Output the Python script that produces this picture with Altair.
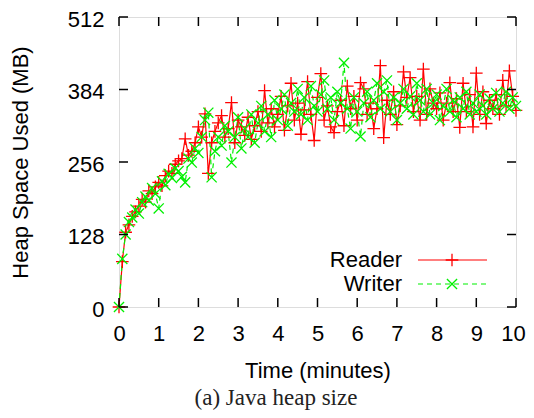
import altair as alt
import pandas as pd

# ---- data ----
step = 1.0 / 12.0  # minutes between samples
reader = [0, 80, 132, 145, 160, 168, 178, 190, 185, 205, 200, 212,
          220, 214, 232, 240, 236, 252, 258, 262, 297, 268, 275, 290,
          318, 300, 341, 236, 290, 310, 325, 338, 300, 315, 361, 290,
          330, 318, 303, 335, 296, 320, 345, 310, 382, 325, 350, 318,
          340, 372, 312, 355, 395, 330, 360, 305, 348, 398, 340, 294,
          370, 412, 330, 355, 318, 308, 345, 365, 320, 390, 350, 372,
          330, 396, 385, 340, 360, 315, 350, 426, 299, 365, 340, 380,
          322, 355, 415, 370, 405, 345, 372, 330, 420, 340, 385, 360,
          350, 378, 330, 360, 396, 345, 368, 317, 395, 345, 375, 318,
          413, 340, 380, 324, 365, 350, 375, 340, 400, 355, 417, 372,
          347]
writer = [0, 85, 128, 150, 158, 172, 165, 185, 195, 188, 210, 200,
          174, 222, 215, 235, 228, 245, 240, 230, 220, 262, 255, 280,
          272, 300, 330, 343, 229, 275, 300, 285, 320, 310, 255, 300,
          335, 280, 315, 300, 340, 290, 325, 355, 310, 340, 300, 365,
          330, 350, 375, 320, 360, 345, 385, 340, 370, 330, 390, 355,
          345, 375, 400, 350, 370, 330, 380, 360, 431, 350, 315, 370,
          345, 301, 360, 380, 335, 365, 395, 350, 380, 400, 345, 370,
          330, 360, 385, 350, 372, 340, 395, 365, 345, 385, 340, 360,
          375, 330, 355, 385, 345, 365, 335, 370, 350, 380, 340, 360,
          345, 375, 355, 340, 368, 350, 378, 345, 360, 380, 350, 370,
          355]
series_names = ["Reader", "Writer"]
x_ticks = [0, 1, 2, 3, 4, 5, 6, 7, 8, 9, 10]
y_ticks = [0, 128, 256, 384, 512]
caption = "(a)  Java heap size"

rows = []
for name, vals in zip(series_names, [reader, writer]):
    for i, v in enumerate(vals):
        rows.append({"t": i * step, "mb": v, "series": name})
df = pd.DataFrame(rows)

W, H = 397, 290
TL = 9  # tick length
RED, GREEN = "#ff0000", "#00f000"
PLUS = "M-1,0L1,0M0,-1L0,1"
CROSS = "M-0.8,-0.8L0.8,0.8M-0.8,0.8L0.8,-0.8"
FONT = "Liberation Sans"

xs = alt.Scale(domain=[0, 10], nice=False, zero=False)
ys = alt.Scale(domain=[0, 512], nice=False)
color = alt.Color("series:N", scale=alt.Scale(domain=series_names, range=[RED, GREEN]), legend=None)
dash = alt.StrokeDash("series:N", scale=alt.Scale(domain=series_names, range=[[1, 0], [5, 4]]), legend=None)
shape = alt.Shape("series:N", scale=alt.Scale(domain=series_names, range=[PLUS, CROSS]), legend=None)

xaxis = alt.Axis(values=x_ticks, ticks=False, domain=False, grid=False, labelFont=FONT,
                 labelFontSize=22, labelColor="black", labelPadding=16, title="Time (minutes)",
                 titleFont=FONT, titleFontSize=22, titleFontWeight="normal", titleColor="black",
                 titlePadding=16, labelFlush=False, labelOverlap=False,
                 labelOffset={"condition": {"test": "datum.value === 10", "value": -3}, "value": 0})
yaxis = alt.Axis(values=y_ticks, ticks=False, domain=False, grid=False, labelFont=FONT,
                 labelFontSize=22, labelColor="black", labelPadding=15, title="Heap Space Used (MB)",
                 titleFont=FONT, titleFontSize=22, titleFontWeight="normal", titleColor="black",
                 titlePadding=35, labelFlush=False, labelOverlap=False, labelOffset=2)

base = alt.Chart(df)
lines = base.mark_line(strokeWidth=1.2, clip=True).encode(
    x=alt.X("t:Q", scale=xs, axis=xaxis),
    y=alt.Y("mb:Q", scale=ys, axis=yaxis),
    color=color, strokeDash=dash, detail="series:N")
points = base.mark_point(filled=False, strokeWidth=1.3, size=160, opacity=1).encode(
    x=alt.X("t:Q", scale=xs, axis=xaxis), y=alt.Y("mb:Q", scale=ys, axis=yaxis), color=color, shape=shape)

xt = pd.DataFrame({"t": x_ticks})
yt = pd.DataFrame({"mb": y_ticks})
tick_style = dict(color="black", strokeWidth=1.5)
xb = alt.Chart(xt).mark_rule(**tick_style).encode(
    x=alt.X("t:Q", scale=xs, axis=xaxis), y=alt.value(H), y2=alt.value(H - TL))
xtop = alt.Chart(xt).mark_rule(**tick_style).encode(
    x=alt.X("t:Q", scale=xs, axis=xaxis), y=alt.value(0), y2=alt.value(TL))
yl = alt.Chart(yt).mark_rule(**tick_style).encode(
    y=alt.Y("mb:Q", scale=ys, axis=yaxis), x=alt.value(0), x2=alt.value(TL))
yr = alt.Chart(yt).mark_rule(**tick_style).encode(
    y=alt.Y("mb:Q", scale=ys, axis=yaxis), x=alt.value(W - TL), x2=alt.value(W))

# legend (gnuplot style: label then sample)
leg = []
for k, (name, col, shp, dsh) in enumerate(zip(series_names, [RED, GREEN], [PLUS, CROSS], [[1, 0], [5, 4]])):
    ly = 243 + 24 * k
    d = pd.DataFrame({"series": [name]})
    c = alt.Chart(d)
    leg.append(c.mark_text(align="right", baseline="middle", font=FONT, fontSize=22, color="black").encode(
        text="series:N", x=alt.value(283), y=alt.value(ly)))
    leg.append(c.mark_rule(color=col, strokeWidth=1.2, strokeDash=dsh).encode(
        x=alt.value(299), x2=alt.value(368), y=alt.value(ly)))
    leg.append(c.mark_point(shape=shp, filled=False, color=col, strokeWidth=1.3, size=160, opacity=1).encode(
        x=alt.value(333), y=alt.value(ly)))

cap = alt.Chart(pd.DataFrame({"c": [caption]})).mark_text(
    font="Liberation Serif", fontSize=23, color="#222222", align="center", baseline="middle").encode(
    text="c:N", x=alt.value(157), y=alt.value(381))

chart = alt.layer(lines, points, xb, xtop, yl, yr, *leg, cap).properties(
    width=W, height=H,
    autosize=alt.AutoSizeParams(type="none"),
    padding={"left": 111, "top": 9, "right": 10, "bottom": 103},
).configure_view(stroke="black", strokeWidth=2).configure_axis(labelOverlap=False).configure(background="white")

chart.save("out.html", embed_options={"renderer": "svg", "actions": False})
